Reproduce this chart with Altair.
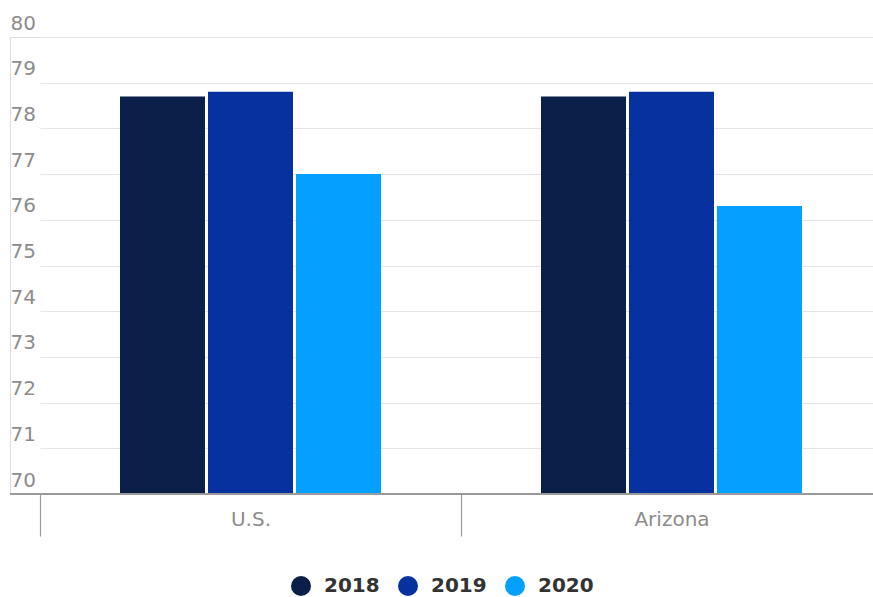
import altair as alt
import pandas as pd

regions = ["U.S.", "Arizona"]
years = ["2018", "2019", "2020"]
us_values = [78.7, 78.8, 77.0]
az_values = [78.7, 78.8, 76.3]
colors = ["#0B2049", "#0831A0", "#04A0FF"]

rows = []
for r, vals in zip(regions, [us_values, az_values]):
    for y, v in zip(years, vals):
        rows.append({"region": r, "year": y, "value": v})
df = pd.DataFrame(rows)

FONT = "DejaVu Sans"

bars = alt.Chart(df).mark_bar(strokeWidth=0).encode(
    x=alt.X("region:N", sort=regions, title=None,
            scale=alt.Scale(domain=regions, range=[30, 872], paddingInner=0, paddingOuter=0),
            axis=alt.Axis(domain=False, tickBand="extent", tickSize=42, tickColor="#9a9a9a",
                          tickWidth=1.2, labelPadding=-27, labelColor="#8c8c8c",
                          labelFontSize=20, labelFont=FONT, labelAngle=0, grid=False)),
    xOffset=alt.XOffset("year:N", sort=years,
                        scale=alt.Scale(paddingInner=0.034, paddingOuter=0.909)),
    y=alt.Y("value:Q", title=None,
            scale=alt.Scale(domain=[70, 80], zero=False, nice=False),
            axis=alt.Axis(values=list(range(70, 81)), domain=False, ticks=False, tickSize=0,
                          labelAlign="left", labelBaseline="alphabetic", labelPadding=0,
                          labelOffset=-8, labelColor="#8c8c8c", labelFontSize=20,
                          labelFont=FONT, gridColor="#e6e6e6", gridWidth=1)),
    y2=alt.Y2(datum=70),
    color=alt.Color("year:N", sort=years,
                    scale=alt.Scale(domain=years, range=colors),
                    legend=alt.Legend(title=None, orient="none", direction="horizontal",
                                      legendX=281, legendY=539, symbolType="circle",
                                      symbolSize=400, symbolStrokeWidth=0,
                                      labelFontSize=20, labelFontWeight="bold",
                                      labelColor="#333333", labelFont=FONT,
                                      columnPadding=18, symbolOffset=0, labelOffset=13)),
)

baseline = alt.Chart(df).mark_rule(color="#9a9a9a", strokeWidth=2).encode(y=alt.datum(70))

chart = alt.layer(bars, baseline).properties(
    width=863, height=457,
    padding={"left": 10, "top": 37, "right": 0, "bottom": 103},
    autosize=alt.AutoSizeParams(type="none"),
).configure_view(stroke=None).configure(background="white")

chart.save("out.html", embed_options={"renderer": "svg", "actions": False})
